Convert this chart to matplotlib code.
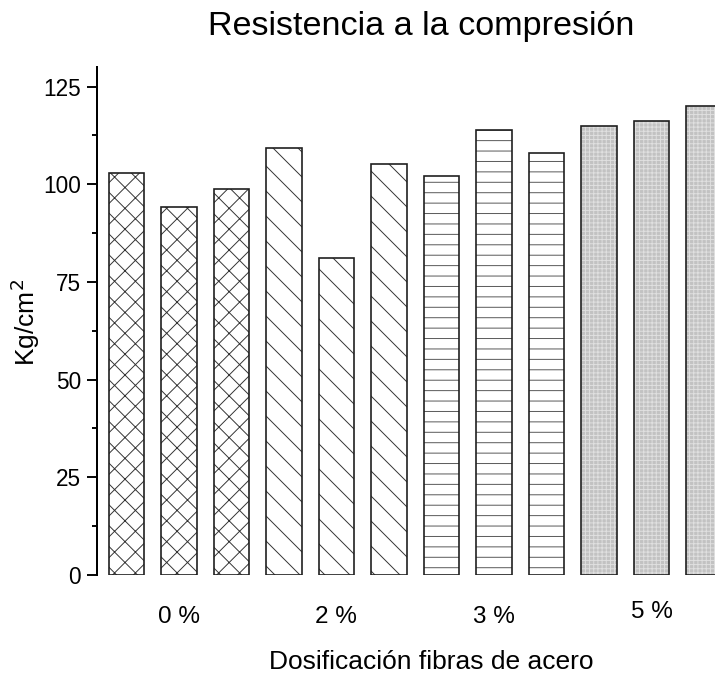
import matplotlib
matplotlib.use("Agg")
import matplotlib.pyplot as plt
import matplotlib.hatch as mhatch
from matplotlib.ticker import MultipleLocator
import matplotlib.transforms as mtransforms

# ---- data ----
group_labels = ["0 %", "2 %", "3 %", "5 %"]
bars_per_group = 3
values = [103.0, 94.3, 98.8, 109.3, 81.1, 105.3, 102.0, 113.8, 107.9, 115.0, 116.3, 119.9]
y_ticks = [0, 25, 50, 75, 100, 125]
title = "Resistencia a la compresión"
xlabel = "Dosificación fibras de acero"
ylabel = "Kg/cm$^2$"

# ---- sparser pure back-slash hatch (to match reference spacing) ----
_orig_se_init = mhatch.SouthEastHatch.__init__


def _se_init(self, hatch, density):
    _orig_se_init(self, hatch, density)
    if hatch and set(hatch) == {'\\'}:
        self.num_lines = 10
        self.num_vertices = (self.num_lines + 1) * 2


mhatch.SouthEastHatch.__init__ = _se_init

# ---- style ----
DPI = 125
plt.rcParams['font.family'] = ['Liberation Sans', 'DejaVu Sans']
plt.rcParams['hatch.linewidth'] = 0.55

group_hatch = ['xx', '\\\\', '--', '+++++']
group_face = ['white', 'white', 'white', '#c2c2c2']
group_hcolor = ['#333333', '#333333', '#555555', '#e0e0e0']

fig = plt.figure(figsize=(715 / DPI, 674 / DPI), dpi=DPI)
ax = fig.add_axes([97 / 715, 1 - 575 / 674, 1 - 97 / 715, (575 - 67) / 674])

x = list(range(len(values)))
width = 0.68
for i, v in enumerate(values):
    g = i // bars_per_group
    ax.bar(x[i], v, width=width, color=group_face[g], hatch=group_hatch[g],
           edgecolor=group_hcolor[g], linewidth=0, zorder=2)
    ax.bar(x[i], v, width=width, fill=False, edgecolor='#1e1e1e',
           linewidth=0.95, zorder=3)

ax.set_xlim(-0.56, 11.21)
ax.set_ylim(0, 130)
ax.set_yticks(y_ticks)
ax.yaxis.set_minor_locator(MultipleLocator(12.5))
ax.tick_params(axis='y', which='major', length=5.8, width=1.1, labelsize=13, pad=3.5)
ax.tick_params(axis='y', which='minor', length=3.0, width=1.1)
ax.set_xticks([])
for s in ['top', 'right', 'bottom']:
    ax.spines[s].set_visible(False)
ax.spines['left'].set_linewidth(1.15)

# group labels under each group's middle bar
trans = mtransforms.blended_transform_factory(ax.transData, fig.transFigure)
label_y = [617, 617, 617, 612]
for g, lab in enumerate(group_labels):
    xc = x[g * bars_per_group + 1]
    ax.text(xc, 1 - label_y[g] / 674, lab, transform=trans, ha='center', va='center',
            fontsize=14)

fig.text(421 / 715, 1 - 27 / 674, title, ha='center', va='center', fontsize=19.7)
fig.text(431 / 715, 1 - 662 / 674, xlabel, ha='center', va='center', fontsize=15.2)
fig.text(25 / 715, 1 - 322 / 674, ylabel, ha='center', va='center', fontsize=15.2,
         rotation=90)

fig.savefig("out.png", dpi=DPI)
